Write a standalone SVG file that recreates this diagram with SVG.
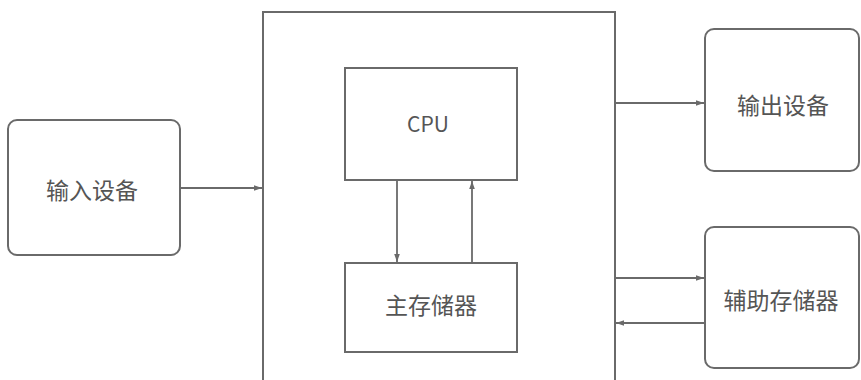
<svg xmlns="http://www.w3.org/2000/svg" width="861" height="380" viewBox="0 0 861 380">
<defs>
<style>
.box{fill:none;stroke:#6a6a6a;stroke-width:2}
.ln{fill:none;stroke:#6a6a6a;stroke-width:1.8}
.t{font-family:"Noto Sans CJK SC","Noto Sans",sans-serif;font-size:23px;fill:#555;text-anchor:middle;dominant-baseline:central}
.e{font-size:21px}
</style>
<marker id="ah" viewBox="0 0 10 10" refX="10" refY="5" markerWidth="10" markerHeight="8" markerUnits="userSpaceOnUse" orient="auto">
<path d="M0,1.5 L10,5 L0,8.5 Z" fill="#6a6a6a"/>
</marker>
</defs>
<rect width="861" height="380" fill="#fff"/>
<g id="host">
<path class="box" d="M263,385 L263,12 L615,12 L615,385"/>
</g>
<g id="input">
<rect class="box" x="8" y="120" width="172" height="135" rx="9"/>
<text class="t" x="92" y="189">输入设备</text>
</g>
<g id="cpu">
<rect class="box" x="345" y="68" width="172" height="112"/>
<text class="t e" x="428" y="123">CPU</text>
</g>
<g id="mainmem">
<rect class="box" x="345" y="263" width="172" height="89"/>
<text class="t" x="431" y="304">主存储器</text>
</g>
<g id="output">
<rect class="box" x="705" y="29" width="154" height="142" rx="9"/>
<text class="t" x="783" y="104">输出设备</text>
</g>
<g id="aux">
<rect class="box" x="705" y="227" width="154" height="141" rx="9"/>
<text class="t" x="781" y="299">辅助存储器</text>
</g>
<g id="connectors">
<line class="ln" x1="180" y1="188" x2="262" y2="188" marker-end="url(#ah)"/>
<line class="ln" x1="397" y1="181" x2="397" y2="262" marker-end="url(#ah)"/>
<line class="ln" x1="472" y1="262" x2="472" y2="181" marker-end="url(#ah)"/>
<line class="ln" x1="615" y1="103" x2="704" y2="103" marker-end="url(#ah)"/>
<line class="ln" x1="615" y1="278" x2="704" y2="278" marker-end="url(#ah)"/>
<line class="ln" x1="705" y1="323" x2="616" y2="323" marker-end="url(#ah)"/>
</g>
</svg>
